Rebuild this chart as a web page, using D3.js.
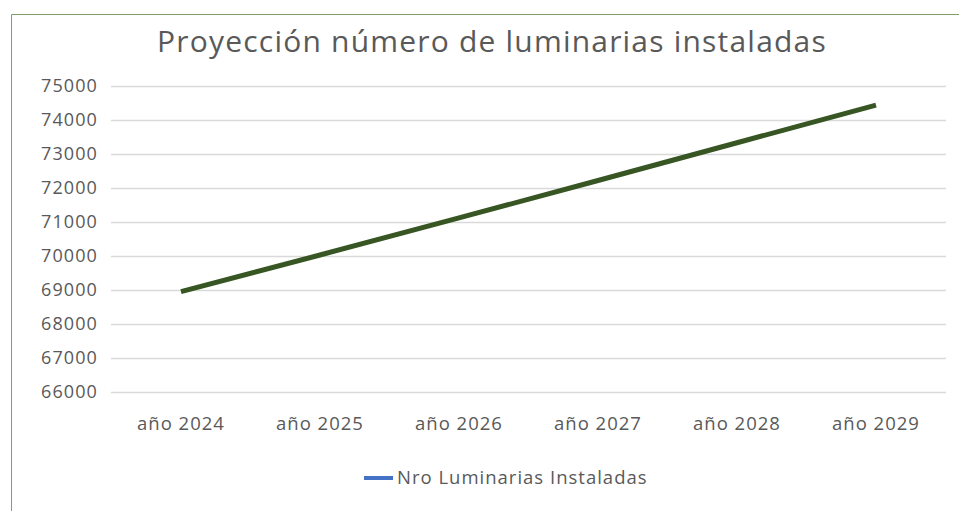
<!doctype html>
<html>
<meta charset="utf-8">
<head>
<script src="https://cdn.jsdelivr.net/npm/d3@7"></script>
<style>
  body { margin: 0; background: #fff; }
  text { font-family: "Open Sans", "Noto Sans", sans-serif; fill: #595959; }
</style>
</head>
<body>
<script>
var years = ["año 2024", "año 2025", "año 2026", "año 2027", "año 2028", "año 2029"];
var luminarias = [68950, 70030, 71120, 72220, 73330, 74440];
var yTicks = [66000, 67000, 68000, 69000, 70000, 71000, 72000, 73000, 74000, 75000];
var seriesName = "Nro Luminarias Instaladas";

var width = 959, height = 511;
var svg = d3.select("body").append("svg")
  .attr("width", width)
  .attr("height", height);

// chart frame (only top and left edges visible)
svg.append("path")
  .attr("d", "M11.5,511 L11.5,14.5 L959,14.5")
  .attr("fill", "none")
  .attr("stroke", "#7f9f6a")
  .attr("stroke-width", 1);

svg.append("text")
  .attr("x", 492)
  .attr("y", 52)
  .attr("text-anchor", "middle")
  .style("font-size", "30px")
  .style("letter-spacing", "1.2px")
  .text("Proyección número de luminarias instaladas");

var x = d3.scaleBand()
  .domain(years)
  .range([111.5, 945.5]);

var y = d3.scaleLinear()
  .domain([66000, 75000])
  .range([392, 86]);

// gridlines
svg.append("g")
  .selectAll("line")
  .data(yTicks)
  .enter().append("line")
  .attr("x1", 111)
  .attr("x2", 946)
  .attr("y1", function(d) { return Math.round(y(d)) + 0.5; })
  .attr("y2", function(d) { return Math.round(y(d)) + 0.5; })
  .attr("stroke", "#d9d9d9")
  .attr("stroke-width", 1.3);

var yAxis = svg.append("g")
  .attr("transform", "translate(104,0)")
  .call(d3.axisLeft(y).tickValues(yTicks).tickSize(0).tickPadding(6).tickFormat(d3.format("d")));
yAxis.select(".domain").remove();
yAxis.selectAll("text")
  .style("font-size", "18px")
  .style("letter-spacing", "1.1px")
  .style("font-family", "\"Open Sans\", sans-serif")
  .attr("fill", "#595959");

var xAxis = svg.append("g")
  .attr("transform", "translate(0,412)")
  .call(d3.axisBottom(x).tickSize(0).tickPadding(5));
xAxis.select(".domain").remove();
xAxis.selectAll("text")
  .style("font-size", "18.5px")
  .style("letter-spacing", "1px")
  .style("font-family", "\"Open Sans\", sans-serif")
  .attr("fill", "#595959");

var line = d3.line()
  .x(function(d, i) { return x(years[i]) + x.bandwidth() / 2; })
  .y(function(d) { return y(d); });

svg.append("path")
  .datum(luminarias)
  .attr("d", line)
  .attr("fill", "none")
  .attr("stroke", "#375623")
  .attr("stroke-width", 5)
  .attr("stroke-linecap", "butt");

// legend
var legend = svg.append("g").attr("transform", "translate(364,478)");
legend.append("line")
  .attr("x1", 0).attr("x2", 29)
  .attr("stroke", "#4472c4")
  .attr("stroke-width", 4);
legend.append("text")
  .attr("x", 33)
  .attr("dy", "0.35em")
  .style("font-size", "18.5px")
  .style("letter-spacing", "1px")
  .text(seriesName);
</script>
</body>
</html>
